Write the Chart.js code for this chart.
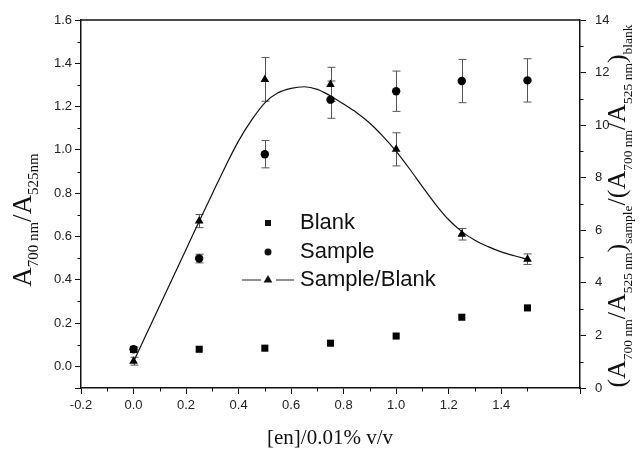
<!DOCTYPE html>
<html>
<head>
<meta charset="utf-8">
<script src="https://cdn.jsdelivr.net/npm/chart.js@4.4.0/dist/chart.umd.min.js"></script>
<style>
  body { margin: 0; background: #fff; }
  #wrap { width: 640px; height: 450px; }
</style>
</head>
<body>
<div id="wrap"><canvas id="chart" width="640" height="450"></canvas></div>
<script>
// concentrations of en
const xValues = [0, 0.25, 0.5, 0.75, 1.0, 1.25, 1.5];

// left axis: A700/A525
const blankValues = [0.078, 0.079, 0.084, 0.107, 0.140, 0.227, 0.270];
const sampleValues = [0.079, 0.498, 0.980, 1.232, 1.271, 1.318, 1.321];
const sampleErr = [0.01, 0.02, 0.063, 0.086, 0.093, 0.1, 0.1];

// right axis: sample / blank
const ratioValues = [1.02, 6.35, 11.74, 11.55, 9.08, 5.85, 4.90];
const ratioErr = [0.15, 0.25, 0.83, 0.65, 0.63, 0.22, 0.2];

// fitted curve
const fitX = [0, 0.05, 0.1, 0.15, 0.2, 0.25, 0.3, 0.35, 0.4, 0.45, 0.5, 0.55, 0.6, 0.65, 0.7, 0.75, 0.8, 0.85, 0.9, 0.95, 1.0, 1.05, 1.1, 1.15, 1.2, 1.25, 1.3, 1.35, 1.4, 1.45, 1.5];
const fitY = [1.0, 2.07, 3.14, 4.2, 5.27, 6.34, 7.39, 8.43, 9.40, 10.2, 10.85, 11.23, 11.40, 11.46, 11.36, 11.11, 10.8, 10.47, 10.07, 9.57, 9.0, 8.35, 7.66, 6.99, 6.40, 5.95, 5.62, 5.38, 5.18, 5.03, 4.9];

const xTicks = { min: -0.2, max: 1.7, step: 0.2 };
const yTicks = { min: -0.1, max: 1.6, step: 0.2 };
const y2Ticks = { min: 0, max: 14, step: 2 };

const tickFont = { family: "'Liberation Sans', Arial, sans-serif", size: 13 };
const serif = "'Liberation Serif', 'Times New Roman', serif";

const toPts = (xs, ys) => xs.map((x, i) => ({ x: x, y: ys[i] }));

// labels only on even tenths
const evenLabel = v => {
  const r = Math.round(v * 10);
  return r % 2 === 0 ? v.toFixed(1) : '';
};

// draws text made of normal / subscript pieces, centred on (cx, cy)
function drawRichText(ctx, parts, cx, cy, rotate, mainSize, subSize) {
  ctx.save();
  ctx.translate(cx, cy);
  if (rotate) ctx.rotate(-Math.PI / 2);
  ctx.fillStyle = '#111';
  ctx.textBaseline = 'alphabetic';
  ctx.textAlign = 'left';
  let total = 0;
  const widths = parts.map(p => {
    ctx.font = (p.sub ? subSize : mainSize) + 'px ' + serif;
    const w = ctx.measureText(p.t).width;
    total += w;
    return w;
  });
  let pos = -total / 2;
  parts.forEach((p, i) => {
    ctx.font = (p.sub ? subSize : mainSize) + 'px ' + serif;
    ctx.fillText(p.t, pos, p.sub ? mainSize * 0.26 : 0);
    pos += widths[i];
  });
  ctx.restore();
}

function marker(ctx, style, x, y, r) {
  ctx.beginPath();
  if (style === 'rect') {
    ctx.rect(x - r, y - r, 2 * r, 2 * r);
  } else if (style === 'circle') {
    ctx.arc(x, y, r, 0, Math.PI * 2);
  } else {
    ctx.moveTo(x, y - r);
    ctx.lineTo(x + r * 0.866, y + r * 0.5);
    ctx.lineTo(x - r * 0.866, y + r * 0.5);
    ctx.closePath();
  }
  ctx.fill();
}

const decorPlugin = {
  id: 'decor',
  beforeDatasetsDraw(chart) {
    const { ctx, scales: { x, y, y2 } } = chart;
    ctx.save();
    ctx.strokeStyle = '#555';
    ctx.lineWidth = 1;
    const bars = (vals, errs, scale) => {
      xValues.forEach((xv, i) => {
        const px = Math.round(x.getPixelForValue(xv)) + 0.5;
        const top = scale.getPixelForValue(vals[i] + errs[i]);
        const bot = scale.getPixelForValue(vals[i] - errs[i]);
        ctx.beginPath();
        ctx.moveTo(px, top); ctx.lineTo(px, bot);
        ctx.moveTo(px - 4, top); ctx.lineTo(px + 4, top);
        ctx.moveTo(px - 4, bot); ctx.lineTo(px + 4, bot);
        ctx.stroke();
      });
    };
    bars(sampleValues, sampleErr, y);
    bars(ratioValues, ratioErr, y2);
    ctx.restore();
  },
  afterDraw(chart) {
    const { ctx, chartArea: { left, right, top, bottom }, scales: { x, y, y2 } } = chart;
    ctx.save();
    ctx.strokeStyle = '#111';
    ctx.lineWidth = 1.5;
    ctx.beginPath();
    ctx.moveTo(left, top); ctx.lineTo(right, top);
    ctx.stroke();

    // minor ticks
    ctx.lineWidth = 1;
    ctx.beginPath();
    for (let v = -0.1; v < 1.65; v += 0.2) {
      const px = Math.round(x.getPixelForValue(v)) + 0.5;
      ctx.moveTo(px, bottom); ctx.lineTo(px, bottom + 3.5);
    }
    for (let v = 0.1; v < 1.6; v += 0.2) {
      const py = Math.round(y.getPixelForValue(v)) + 0.5;
      ctx.moveTo(left, py); ctx.lineTo(left - 3.5, py);
    }
    for (let v = 1; v < 14; v += 2) {
      const py = Math.round(y2.getPixelForValue(v)) + 0.5;
      ctx.moveTo(right, py); ctx.lineTo(right + 3.5, py);
    }
    ctx.stroke();

    // axis titles
    drawRichText(ctx, [
      { t: 'A' }, { t: '700 nm', sub: true }, { t: '/A' }, { t: '525nm', sub: true }
    ], 31, 220, true, 27, 15);
    drawRichText(ctx, [
      { t: '(A' }, { t: '700 nm', sub: true }, { t: '/A' }, { t: '525 nm', sub: true },
      { t: ')' }, { t: 'sample', sub: true }, { t: '/(A' }, { t: '700 nm', sub: true },
      { t: '/A' }, { t: '525 nm', sub: true }, { t: ')' }, { t: 'blank', sub: true }
    ], 625, 206, true, 26, 13.5);
    drawRichText(ctx, [{ t: '[en]/0.01% v/v' }], 330, 444, false, 21, 12);

    // legend
    ctx.fillStyle = '#111';
    marker(ctx, 'rect', 268, 223, 3);
    marker(ctx, 'circle', 268, 252, 3.5);
    ctx.strokeStyle = '#222';
    ctx.lineWidth = 1;
    ctx.beginPath();
    ctx.moveTo(242, 280); ctx.lineTo(261, 280);
    ctx.moveTo(276, 280); ctx.lineTo(294, 280);
    ctx.stroke();
    marker(ctx, 'triangle', 268, 280, 5);
    ctx.font = "22px 'Liberation Sans', Arial, sans-serif";
    ctx.textBaseline = 'middle';
    ctx.textAlign = 'left';
    ctx.fillText('Blank', 300, 223);
    ctx.fillText('Sample', 300, 252);
    ctx.fillText('Sample/Blank', 300, 280);
    ctx.restore();
  }
};

const axisGrid = { drawOnChartArea: false, tickLength: 6, color: '#111', lineWidth: 1 };
const axisBorder = { color: '#111', width: 1.5 };

new Chart(document.getElementById('chart'), {
  type: 'scatter',
  data: {
    datasets: [
      {
        label: 'Sample/Blank fit',
        data: toPts(fitX, fitY),
        yAxisID: 'y2',
        showLine: true,
        borderColor: '#111',
        borderWidth: 1.2,
        pointRadius: 0,
        cubicInterpolationMode: 'monotone',
        order: 4
      },
      {
        label: 'Blank',
        data: toPts(xValues, blankValues),
        yAxisID: 'y',
        pointStyle: 'rect',
        pointRadius: 5,
        backgroundColor: '#000',
        borderColor: '#000',
        borderWidth: 0,
        order: 3
      },
      {
        label: 'Sample',
        data: toPts(xValues, sampleValues),
        yAxisID: 'y',
        pointStyle: 'circle',
        pointRadius: 4.2,
        backgroundColor: '#000',
        borderColor: '#000',
        borderWidth: 0,
        order: 2
      },
      {
        label: 'Sample/Blank',
        data: toPts(xValues, ratioValues),
        yAxisID: 'y2',
        pointStyle: 'triangle',
        pointRadius: 5,
        backgroundColor: '#000',
        borderColor: '#000',
        borderWidth: 0,
        order: 1
      }
    ]
  },
  options: {
    responsive: false,
    animation: false,
    layout: { padding: { top: 20, left: 0, right: 0, bottom: 0 } },
    plugins: { legend: { display: false }, tooltip: { enabled: false } },
    scales: {
      x: {
        type: 'linear',
        min: xTicks.min, max: xTicks.max,
        grid: axisGrid, border: axisBorder,
        ticks: { stepSize: xTicks.step, callback: evenLabel, color: '#222', font: tickFont, padding: 4, maxRotation: 0, autoSkip: false },
        afterFit: s => { s.height = 62; }
      },
      y: {
        position: 'left',
        min: yTicks.min, max: yTicks.max,
        grid: axisGrid, border: axisBorder,
        ticks: { stepSize: yTicks.step, callback: evenLabel, color: '#222', font: tickFont, padding: 3, autoSkip: false },
        afterFit: s => { s.width = 81; }
      },
      y2: {
        position: 'right',
        min: y2Ticks.min, max: y2Ticks.max,
        grid: axisGrid, border: axisBorder,
        ticks: { stepSize: y2Ticks.step, color: '#222', font: tickFont, padding: 9 },
        afterFit: s => { s.width = 60; }
      }
    }
  },
  plugins: [decorPlugin]
});
</script>
</body>
</html>
